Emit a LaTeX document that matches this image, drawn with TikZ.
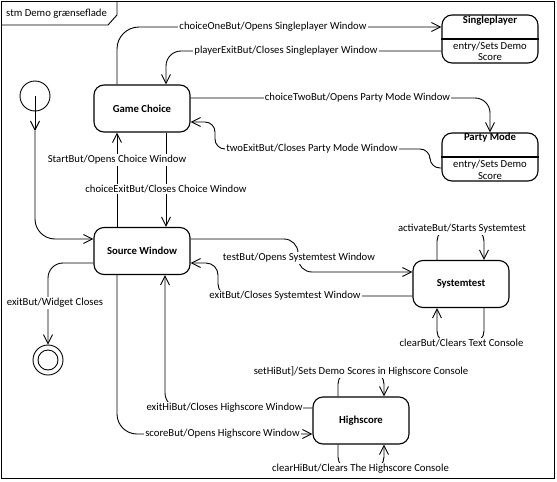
\documentclass[tikz,border=0pt]{standalone}
\usepackage{fontspec}
\setmainfont{Carlito}
\usetikzlibrary{arrows.meta}
\begin{document}
\begin{tikzpicture}[x=1pt,y=-1pt,
  txt/.style={font=\fontsize{10.7}{11.5}\selectfont, inner sep=0pt},
  state/.style={draw, line width=1.1pt, rounded corners=10pt, minimum width=96pt,
    minimum height=47pt, inner sep=0pt, font=\fontsize{10.7}{12}\selectfont\bfseries},
  conn/.style={draw, line width=0.9pt, rounded corners=12pt},
  arr/.style={conn, -{Straight Barb[length=9pt,width=9pt]}},
  lbl/.style={fill=white, inner sep=1pt, font=\fontsize{10.7}{12}\selectfont},
  pseudo/.style={draw, circle, line width=0.9pt, inner sep=0pt},
]
\useasboundingbox (0,0) rectangle (557,482);

% frame and its name tab
\draw[line width=0.9pt] (1,1) rectangle (554,478);
\draw[line width=0.9pt] (1,25) -- (108,25) -- (117,15) -- (117,1);
\node[txt, anchor=west] (title) at (6,13.5) {stm Demo grænseflade};

% states
\node[state] (gc) at (142,108.5) {Game Choice};
\node[state] (sw) at (142,251) {Source Window};
\node[state] (st) at (461,284) {Systemtest};
\node[state] (hs) at (361,420.5) {Highscore};
\node[state, minimum height=48pt] (sp) at (490,39) {};
\node[state, minimum height=48pt] (pm) at (490,157) {};
\draw[line width=1.1pt] (sp.west) -- (sp.east);
\draw[line width=1.1pt] (pm.west) -- (pm.east);
\node[txt, font=\fontsize{10.7}{12}\selectfont\bfseries] (sptitle) at (490,20.5) {Singleplayer};
\node[txt, align=center] (spbody) at (490,51.5) {entry/Sets Demo\\Score};
\node[txt, font=\fontsize{10.7}{12}\selectfont\bfseries] (pmtitle) at (490,138) {Party Mode};
\node[txt, align=center] (pmbody) at (490,170) {entry/Sets Demo\\Score};

% initial and final pseudostates
\node[pseudo, minimum size=30pt] (init) at (35,96) {};
\node[pseudo, minimum size=30pt] (fin) at (48,360) {};
\node[pseudo, minimum size=20pt] (finin) at (48,360) {};
\coordinate (imid) at (35,131);

% transitions
\draw[arr] (init.center) -- (imid);
\draw[arr, rounded corners=20pt] (imid) -- (35,239) -- ([yshift=12pt]sw.west);
\draw[arr] ([xshift=24pt]gc.south) -- ([xshift=24pt]sw.north);
\draw[arr] ([xshift=-25pt]sw.north) -- ([xshift=-25pt]gc.south);
\draw[arr, rounded corners=22pt] ([xshift=-25pt]gc.north) -- (117,27) -- ([yshift=12pt]sp.west);
\draw[arr, rounded corners=15pt] ([yshift=-12pt]sp.west) -- (166,51) -- ([xshift=24pt]gc.north);
\draw[arr, rounded corners=15pt] ([yshift=10.5pt]gc.east) -- (490,98) -- (pm.north);
\draw[arr, rounded corners=10pt] ([yshift=-11pt]pm.west) -- (430,168) -- (430,149)
  -- (215,149) -- (215,122) -- ([yshift=-13.5pt]gc.east);
\draw[arr, rounded corners=14pt] ([yshift=12pt]sw.east) -- (298,239) -- (298,272)
  -- ([yshift=12pt]st.west);
\draw[arr, rounded corners=12pt] ([yshift=-12pt]st.west) -- (218,296) -- (218,263)
  -- ([yshift=-12pt]sw.east);
\draw[arr, rounded corners=20pt] ([xshift=-25pt]sw.south) -- (117,434) -- ([yshift=-13.5pt]hs.west);
\draw[arr, rounded corners=15pt] ([yshift=12.5pt]hs.west) -- (165,408) -- ([xshift=23pt]sw.south);
\draw[arr, rounded corners=15pt] ([yshift=-12pt]sw.west) -- (48,263) -- (fin.north);
\draw[arr] ([xshift=-24pt]st.north) -- (437,229) -- (484,229) -- ([xshift=23pt]st.north);
\draw[arr] ([xshift=23pt]st.south) -- (484,343) -- (437,343) -- ([xshift=-24pt]st.south);
\draw[arr] ([xshift=-23pt]hs.north) -- (338,372) -- (384,372) -- ([xshift=23pt]hs.north);
\draw[arr] ([xshift=-23pt]hs.south) -- (338,469) -- (384,469) -- ([xshift=23pt]hs.south);

% transition labels
\node[lbl] (l1) at (273,27) {choiceOneBut/Opens Singleplayer Window};
\node[lbl] (l2) at (286,51) {playerExitBut/Closes Singleplayer Window};
\node[lbl] (l3) at (357.5,98) {choiceTwoBut/Opens Party Mode Window};
\node[lbl] (l4) at (312,149) {twoExitBut/Closes Party Mode Window};
\node[lbl] (l5) at (117,160) {StartBut/Opens Choice Window};
\node[lbl] (l6) at (166,189) {choiceExitBut/Closes Choice Window};
\node[lbl] (l7) at (299,258) {testBut/Opens Systemtest Window};
\node[lbl] (l8) at (285,296) {exitBut/Closes Systemtest Window};
\node[lbl] (l9) at (55,303) {exitBut/Widget Closes};
\node[lbl] (l10) at (462,229) {activateBut/Starts Systemtest};
\node[lbl] (l11) at (461.5,343) {clearBut/Clears Text Console};
\node[lbl] (l12) at (361,372) {setHiBut]/Sets Demo Scores in Highscore Console};
\node[lbl] (l13) at (224.5,408) {exitHiBut/Closes Highscore Window};
\node[lbl] (l14) at (222.5,434) {scoreBut/Opens Highscore Window};
\node[lbl] (l15) at (360.5,469) {clearHiBut/Clears The Highscore Console};
\end{tikzpicture}
\end{document}
